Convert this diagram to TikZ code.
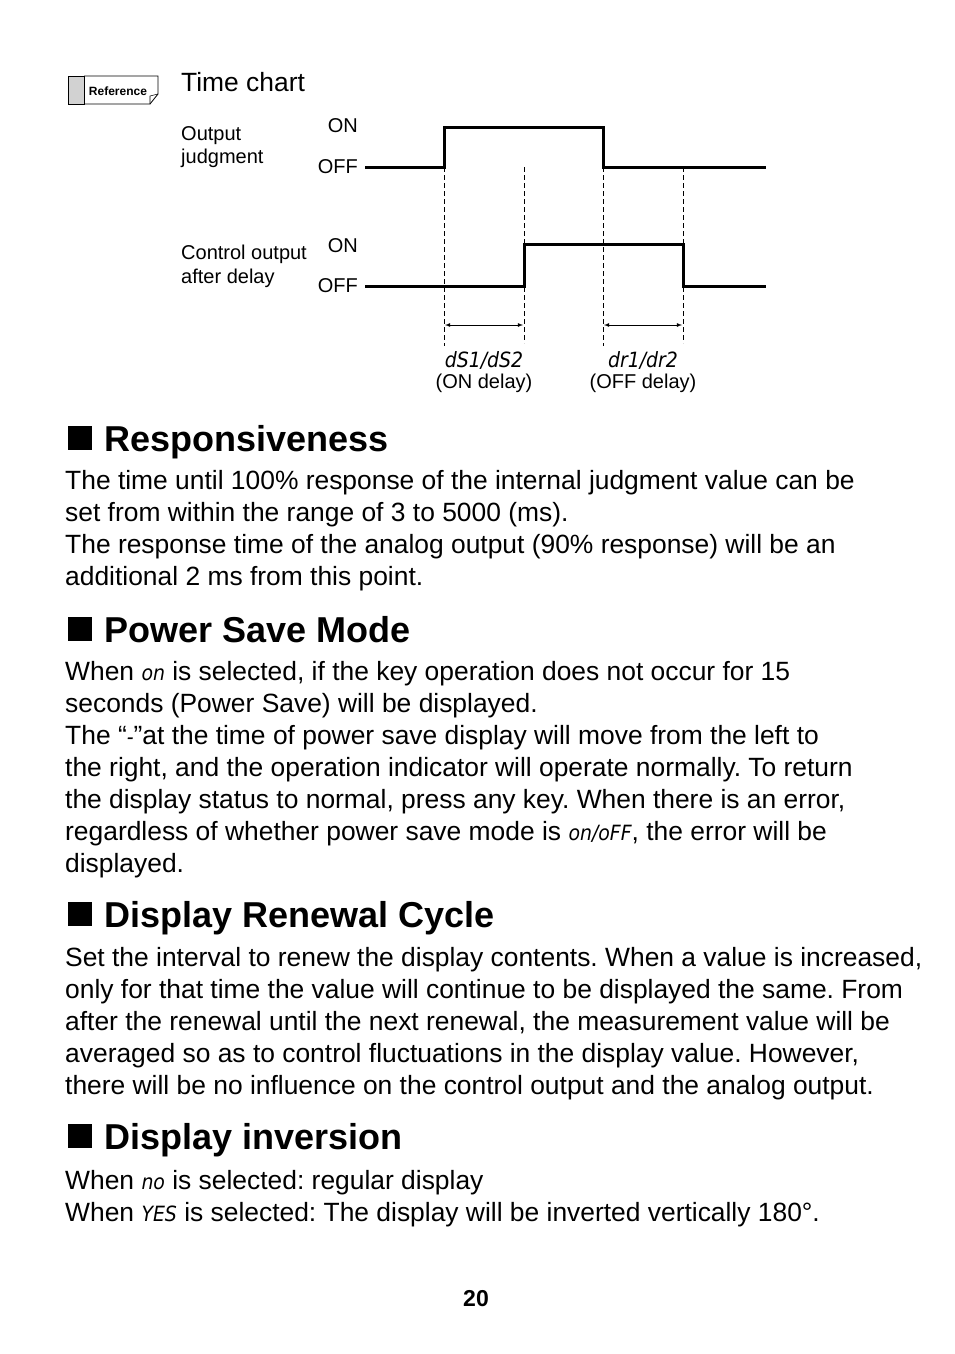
\documentclass[tikz,border=0pt]{standalone}
\usepackage{fontspec}
\usetikzlibrary{calc}
\setmainfont{Liberation Sans}
\newfontfamily\segfont{DejaVu Sans Condensed}
\newcommand{\seg}[1]{{\segfont\itshape\fontsize{21}{21}\selectfont #1}}
\frenchspacing
\begin{document}
\begin{tikzpicture}[x=1pt,y=-1pt,
  body/.style={anchor=base west,inner sep=0,font=\fontsize{26.4}{26.4}\selectfont},
  head/.style={anchor=base west,inner sep=0,font=\bfseries\fontsize{36}{36}\selectfont},
  small/.style={inner sep=0,font=\fontsize{20}{20}\selectfont},
  sig/.style={line width=3pt},
  dashln/.style={line width=0.8pt,dash pattern=on 5pt off 3pt}]
\useasboundingbox[fill=white] (0,0) rectangle (954,1354);
% reference icon
\draw[fill=gray!35,line width=0.8pt] (68,76) rectangle (84,104);
\draw[line width=0.8pt] (84,76) -- (158,76) -- (158,94) -- (150,104) -- (84,104);
\draw[line width=0.6pt] (150,104) -- (150,96) -- (158,94);
\node[inner sep=0,font=\bfseries\fontsize{12}{12}\selectfont] (ref) at (118,91) {Reference};
\node[body] (tc) at (181,92) {Time chart};
% labels
\node[small,anchor=base west] (oj1) at (181,140) {Output};
\node[small,anchor=base west] (oj2) at (181,163) {judgment};
\node[small,anchor=base west] (co1) at (181,259) {Control output};
\node[small,anchor=base west] (co2) at (181,283) {after delay};
\node[small,anchor=base east] (on1) at (358,132) {ON};
\node[small,anchor=base east] (off1) at (358,173) {OFF};
\node[small,anchor=base east] (on2) at (358,252) {ON};
\node[small,anchor=base east] (off2) at (358,292) {OFF};
% signals
\coordinate (s1) at (365,167); \coordinate (e1) at (766,167);
\draw[sig] (s1) -- (444,167) -- (444,127) -- (603,127) -- (603,167) -- (e1);
\coordinate (s2) at (365,286); \coordinate (e2) at (766,286);
\draw[sig] (s2) -- (524,286) -- (524,244) -- (683,244) -- (683,286) -- (e2);
\draw[dashln] (444,167) -- (444,346);
\draw[dashln] (524,167) -- (524,343);
\draw[dashln] (603,167) -- (603,346);
\draw[dashln] (683,167) -- (683,343);
\coordinate (a1) at (445,325); \coordinate (a2) at (523,325);
\coordinate (b1) at (604,325); \coordinate (b2) at (682,325);
\draw[-latex,line width=0.8pt] ($(a1)!0.5!(a2)$) -- (a1);
\draw[-latex,line width=0.8pt] ($(a1)!0.5!(a2)$) -- (a2);
\draw[-latex,line width=0.8pt] ($(b1)!0.5!(b2)$) -- (b1);
\draw[-latex,line width=0.8pt] ($(b1)!0.5!(b2)$) -- (b2);
\node[inner sep=0,anchor=base] (d1) at (484,367) {\seg{dS1/dS2}};
\node[small,anchor=base] (d1b) at (484,388) {(ON delay)};
\node[inner sep=0,anchor=base] (d2) at (643,367) {\seg{dr1/dr2}};
\node[small,anchor=base] (d2b) at (643,388) {(OFF delay)};
% sections
\fill (68,426) rectangle (92,450);
\node[head] (h1) at (104,451) {Responsiveness};
\node[body] at (65,489) {The time until 100\% response of the internal judgment value can be};
\node[body] at (65,521) {set from within the range of 3 to 5000 (ms).};
\node[body] at (65,553) {The response time of the analog output (90\% response) will be an};
\node[body] at (65,585) {additional 2 ms from this point.};
\fill (68,617) rectangle (92,641);
\node[head] (h2) at (104,642) {Power Save Mode};
\node[body] at (65,680) {When \seg{on} is selected, if the key operation does not occur for 15};
\node[body] at (65,712) {seconds (Power Save) will be displayed.};
\node[body] at (65,744) {The “\seg{-}”at the time of power save display will move from the left to};
\node[body] at (65,776) {the right, and the operation indicator will operate normally. To return};
\node[body] at (65,808) {the display status to normal, press any key. When there is an error,};
\node[body] at (65,840) {regardless of whether power save mode is \seg{on/oFF}, the error will be};
\node[body] at (65,872) {displayed.};
\fill (68,902) rectangle (92,926);
\node[head] (h3) at (104,927) {Display Renewal Cycle};
\node[body] at (65,966) {Set the interval to renew the display contents. When a value is increased,};
\node[body] at (65,998) {only for that time the value will continue to be displayed the same. From};
\node[body] at (65,1030) {after the renewal until the next renewal, the measurement value will be};
\node[body] at (65,1062) {averaged so as to control fluctuations in the display value. However,};
\node[body] at (65,1094) {there will be no influence on the control output and the analog output.};
\fill (68,1124) rectangle (92,1148);
\node[head] (h4) at (104,1149) {Display inversion};
\node[body] at (65,1189) {When \seg{no} is selected: regular display};
\node[body] at (65,1221) {When \seg{YES} is selected: The display will be inverted vertically 180°.};
\node[anchor=base,inner sep=0,font=\bfseries\fontsize{23}{23}\selectfont] (pg) at (476,1306) {20};
\end{tikzpicture}
\end{document}
